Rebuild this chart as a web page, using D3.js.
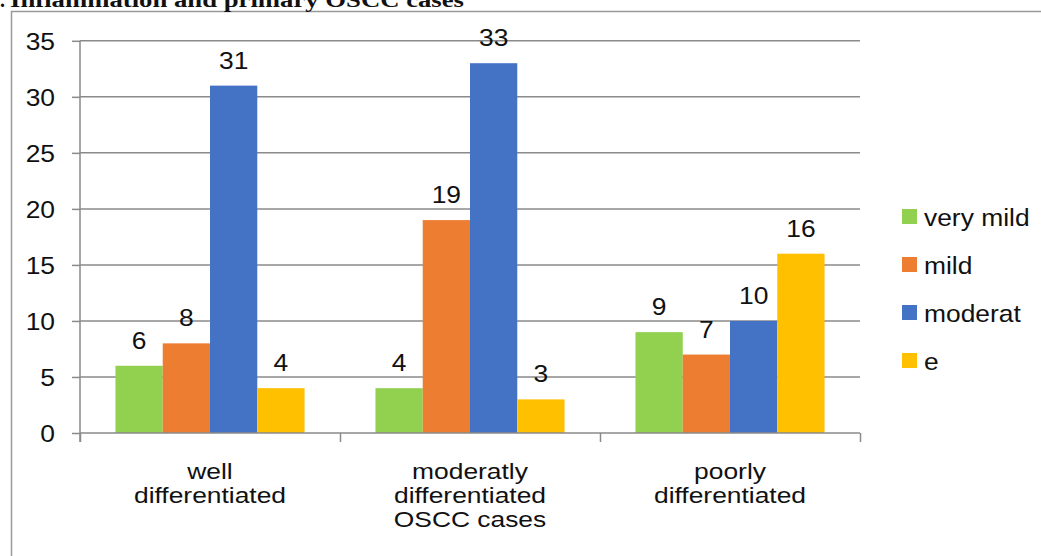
<!DOCTYPE html>
<html>
<head>
<meta charset="utf-8">
<script src="https://cdn.jsdelivr.net/npm/d3@7/dist/d3.min.js"></script>
<style>
  html, body { margin: 0; padding: 0; background: #fff; }
  svg { display: block; }
  text { font-family: "Liberation Sans", Arial, Helvetica, sans-serif; fill: #111; }
</style>
</head>
<body>
<svg id="chart" width="1041" height="556"></svg>
<script>
// Inflammation grade counts per OSCC differentiation group
const categories = [
  ["well", "differentiated"],
  ["moderatly", "differentiated", "OSCC cases"],
  ["poorly", "differentiated"]
];
const seriesNames = ["very mild", "mild", "moderat", "e"];
const veryMild = [6, 4, 9];
const mild = [8, 19, 7];
const moderate = [31, 33, 10];
const severe = [4, 3, 16];
const yTicks = [0, 5, 10, 15, 20, 25, 30, 35];

const seriesValues = [veryMild, mild, moderate, severe];
const colors = ["#92D050", "#ED7D31", "#4472C4", "#FFC000"];

const svg = d3.select("#chart");
const SX = 1.1;            // horizontal stretch of text glyphs
const fontSize = 24;

const plot = { left: 80, right: 860, top: 40.8, bottom: 433 };

const x0 = d3.scaleBand()
  .domain(d3.range(categories.length))
  .range([plot.left, plot.right])
  .paddingInner(0).paddingOuter(0);

// Bars occupy 4 of 5.5 bar widths in each band (150% gap)
const groupPad = x0.bandwidth() * 0.75 / 5.5;
const x1 = d3.scaleBand()
  .domain(d3.range(seriesNames.length))
  .range([groupPad, x0.bandwidth() - groupPad]);

const y = d3.scaleLinear().domain([0, 35]).range([plot.bottom, plot.top]);

// Outer frame
svg.append("path")
  .attr("d", "M11.5,556 V11.5 H1041")
  .attr("fill", "none").attr("stroke", "#9a9a9a").attr("stroke-width", 1.5);

// Title (partially above the frame)
svg.append("text")
  .attr("x", 5).attr("y", 7)
  .attr("text-anchor", "end")
  .style("font-family", "'Liberation Serif', 'Times New Roman', serif")
  .style("font-weight", "bold").style("font-size", "20px")
  .text("1.");
svg.append("text")
  .attr("x", 10).attr("y", 7)
  .attr("textLength", 454).attr("lengthAdjust", "spacingAndGlyphs")
  .style("font-family", "'Liberation Serif', 'Times New Roman', serif")
  .style("font-weight", "bold").style("font-size", "20px")
  .text("Inflammation and primary OSCC cases");

// Horizontal gridlines
svg.append("g")
  .selectAll("line")
  .data(yTicks.filter(d => d > 0))
  .join("line")
  .attr("x1", plot.left).attr("x2", plot.right)
  .attr("y1", d => y(d)).attr("y2", d => y(d))
  .attr("stroke", "#8a8a8a").attr("stroke-width", 1.5);

// Bars
const groups = svg.append("g")
  .selectAll("g")
  .data(categories.map((c, i) => i))
  .join("g")
  .attr("transform", i => `translate(${x0(i)},0)`);

groups.selectAll("rect")
  .data(i => seriesValues.map((s, k) => ({ k, v: s[i] })))
  .join("rect")
  .attr("x", d => x1(d.k))
  .attr("width", x1.bandwidth())
  .attr("y", d => y(d.v))
  .attr("height", d => y(0) - y(d.v))
  .attr("fill", d => colors[d.k]);

// Value labels
groups.selectAll("text.val")
  .data(i => seriesValues.map((s, k) => ({ k, v: s[i] })))
  .join("text")
  .attr("class", "val")
  .attr("text-anchor", "middle")
  .style("font-size", fontSize + "px")
  .attr("transform", d => `translate(${x1(d.k) + x1.bandwidth() / 2},${y(d.v) - 17}) scale(${SX},1)`)
  .text(d => d.v);

// Y axis
const yAxis = svg.append("g")
  .attr("transform", `translate(${plot.left},0)`)
  .call(d3.axisLeft(y).tickValues(yTicks).tickSize(8).tickPadding(0).tickFormat(d3.format("d")));
yAxis.select(".domain").attr("stroke", "#8a8a8a").attr("stroke-width", 1.5)
  .attr("d", `M0,${y(35)}V${y(0) + 9}`);
yAxis.selectAll(".tick line").attr("stroke", "#8a8a8a").attr("stroke-width", 1.5);
yAxis.selectAll(".tick text")
  .attr("x", null).attr("dy", null)
  .attr("transform", `translate(-25,8.5) scale(${SX},1)`)
  .style("font-size", fontSize + "px")
  .style("font-family", "'Liberation Sans', Arial, sans-serif")
  .attr("fill", "#111");

// X axis with separators between categories
const xAxisScale = d3.scaleLinear().domain([0, categories.length]).range([plot.left, plot.right]);
const xAxis = svg.append("g")
  .attr("transform", `translate(0,${plot.bottom})`)
  .call(d3.axisBottom(xAxisScale).tickValues(d3.range(categories.length + 1)).tickSize(9).tickFormat(""));
xAxis.select(".domain").attr("stroke", "#8a8a8a").attr("stroke-width", 1.5)
  .attr("d", `M${plot.left},0H${plot.right}`);
xAxis.selectAll(".tick line").attr("stroke", "#8a8a8a").attr("stroke-width", 1.5);

// Category labels (multi-line)
const catLabels = svg.append("g");
categories.forEach((lines, i) => {
  const cx = x0(i) + x0.bandwidth() / 2;
  lines.forEach((ln, j) => {
    catLabels.append("text")
      .attr("text-anchor", "middle")
      .style("font-size", "22px")
      .attr("transform", `translate(${cx},${479 + j * 24}) scale(1.2,1)`)
      .text(ln);
  });
});

// Legend
const legend = svg.append("g")
  .selectAll("g")
  .data(seriesNames)
  .join("g")
  .attr("transform", (d, i) => `translate(902,${209 + i * 48})`);
legend.append("rect")
  .attr("width", 15).attr("height", 15)
  .attr("fill", (d, i) => colors[i]);
legend.append("text")
  .style("font-size", fontSize + "px")
  .attr("transform", `translate(22,17) scale(${SX},1)`)
  .text(d => d);
</script>
</body>
</html>
